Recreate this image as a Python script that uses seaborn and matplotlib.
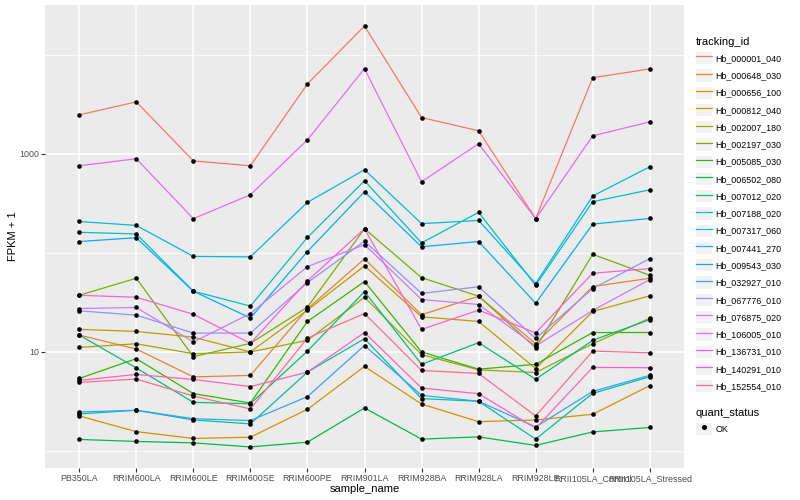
import numpy as np
import pandas as pd
import matplotlib
matplotlib.use("Agg")
import matplotlib.pyplot as plt
import seaborn as sns
from matplotlib.lines import Line2D
from matplotlib.patches import Rectangle
from matplotlib.legend_handler import HandlerTuple

# samples on the x axis
samples = ['PB350LA', 'RRIM600LA', 'RRIM600LE', 'RRIM600SE', 'RRIM600PE', 'RRIM901LA',
           'RRIM928BA', 'RRIM928LA', 'RRIM928LE', 'RRII105LA_Control', 'RRII105LA_Stressed']

tracking_ids = ['Hb_000001_040', 'Hb_000648_030', 'Hb_000656_100', 'Hb_000812_040',
                'Hb_002007_180', 'Hb_002197_030', 'Hb_005085_030', 'Hb_006502_080',
                'Hb_007012_020', 'Hb_007188_020', 'Hb_007317_060', 'Hb_007441_270',
                'Hb_009543_030', 'Hb_032927_010', 'Hb_067776_010', 'Hb_076875_020',
                'Hb_106005_010', 'Hb_136731_010', 'Hb_140291_010', 'Hb_152554_010']

# ggplot default hue palette for 20 levels
palette = ['#F8766D', '#EA8331', '#D89000', '#C09B00', '#A3A500', '#7CAE00', '#39B600',
           '#00BB4E', '#00BF7D', '#00C1A3', '#00BFC4', '#00BAE0', '#00B0F6', '#35A2FF',
           '#9590FF', '#C77CFF', '#E76BF3', '#FA62DB', '#FF62BC', '#FF6C91']

# FPKM per gene, one value per sample
fpkm_000001_040 = [2465, 3333, 846, 754, 5057, 19400, 2316, 1701, 220, 5847, 7160]
fpkm_000648_030 = [13.8, 9.7, 4.6, 4.8, 26.2, 85.9, 22.7, 35.5, 11.1, 44.7, 54.4]
fpkm_000656_100 = [1.26, 0.57, 0.34, 0.38, 1.64, 6.14, 1.98, 0.98, 1.06, 1.35, 3.57]
fpkm_000812_040 = [15.9, 15.1, 13.1, 9.0, 25.4, 72.8, 21.6, 19.3, 5.8, 24.6, 35.8]
fpkm_002007_180 = [10.1, 11.1, 8.6, 9.0, 12.1, 34.6, 8.4, 5.6, 5.2, 11.1, 20.9]
fpkm_002197_030 = [36.3, 54.4, 7.95, 11.2, 27.3, 174, 55.2, 35.5, 10.0, 95.6, 58.3]
fpkm_005085_030 = [4.4, 7.55, 2.8, 2.05, 19.3, 50.3, 9.0, 5.7, 6.5, 14.7, 14.7]
fpkm_006502_080 = [0.31, 0.25, 0.21, 0.10, 0.23, 1.72, 0.32, 0.39, 0.14, 0.56, 0.73]
fpkm_007012_020 = [13.8, 5.9, 2.1, 2.0, 9.2, 39.6, 6.5, 11.4, 4.3, 12.1, 20.2]
fpkm_007188_020 = [1.37, 1.58, 1.06, 0.88, 5.26, 12.6, 2.38, 2.18, 0.32, 2.82, 4.62]
fpkm_007317_060 = [160, 154, 40, 28, 142, 532, 125, 255, 46, 327, 431]
fpkm_007441_270 = [206, 188, 91, 90, 322, 688, 196, 211, 48, 373, 737]
fpkm_009543_030 = [129, 141, 40, 21, 102, 412, 114, 129, 30, 194, 221]
fpkm_032927_010 = [1.48, 1.58, 1.12, 1.03, 2.54, 10.6, 2.65, 2.18, 0.75, 3.0, 4.8]
fpkm_067776_010 = [25, 22.5, 14.5, 14.5, 49, 130, 38, 44.4, 12.7, 42.6, 86.4]
fpkm_076875_020 = [26.4, 27.1, 11.6, 23.4, 71.6, 120, 32.8, 29.1, 10.5, 25.2, 52.7]
fpkm_106005_010 = [754, 888, 220, 384, 1379, 7210, 520, 1258, 220, 1513, 2093]
fpkm_136731_010 = [36.3, 34.6, 23, 11.2, 51.1, 174, 15.9, 25.4, 14.6, 61.2, 68.3]
fpkm_140291_010 = [4.16, 4.93, 4.28, 3.47, 5.26, 14.7, 3.32, 2.79, 0.7, 5.98, 5.93]
fpkm_152554_010 = [3.93, 4.32, 2.59, 1.66, 12.8, 23.4, 5.5, 5.07, 1.26, 9.2, 8.8]

series = [fpkm_000001_040, fpkm_000648_030, fpkm_000656_100, fpkm_000812_040,
          fpkm_002007_180, fpkm_002197_030, fpkm_005085_030, fpkm_006502_080,
          fpkm_007012_020, fpkm_007188_020, fpkm_007317_060, fpkm_007441_270,
          fpkm_009543_030, fpkm_032927_010, fpkm_067776_010, fpkm_076875_020,
          fpkm_106005_010, fpkm_136731_010, fpkm_140291_010, fpkm_152554_010]

rows = []
for tid, vals in zip(tracking_ids, series):
    for s, v in zip(samples, vals):
        rows.append({'tracking_id': tid, 'sample_name': s, 'fpkm1': v + 1, 'quant_status': 'OK'})
df = pd.DataFrame(rows)

font = ['Liberation Sans', 'DejaVu Sans']
plt.rcParams['font.family'] = font

fig = plt.figure(figsize=(8, 5), dpi=100)
ax = fig.add_axes([45 / 800, 1 - 468 / 500, (684 - 45) / 800, (468 - 5) / 500])
ax.set_facecolor('#EBEBEB')

sns.lineplot(data=df, x='sample_name', y='fpkm1', hue='tracking_id', hue_order=tracking_ids,
             palette=palette, sort=False, estimator=None, linewidth=0.9, legend=False, ax=ax, zorder=2)
sns.scatterplot(data=df, x='sample_name', y='fpkm1', color='black', s=11, linewidth=0,
                legend=False, ax=ax, zorder=3)

ax.set_yscale('log')
lo, hi = np.log10(df['fpkm1'].min()), np.log10(df['fpkm1'].max())
pad = (hi - lo) * 0.05
ax.set_ylim(10 ** (lo - pad), 10 ** (hi + pad))
ax.set_xlim(-0.6, len(samples) - 0.4)

ax.set_yticks([10, 1000])
ax.set_yticklabels(['10', '1000'])
ax.set_yticks([1, 100, 10000], minor=True)
ax.set_yticklabels([], minor=True)
ax.set_xticks(range(len(samples)))
ax.set_xticklabels(samples)

ax.grid(which='major', color='white', linewidth=1.1)
ax.grid(which='minor', axis='y', color='white', linewidth=0.55)
ax.set_axisbelow(True)
for sp in ax.spines.values():
    sp.set_visible(False)
ax.tick_params(which='major', length=2.8, width=0.8, color='#333333', labelcolor='#4D4D4D',
               labelsize=6.4, pad=1.5)
ax.tick_params(which='minor', length=0)

ax.set_xlabel('sample_name', fontsize=8, color='black', labelpad=0.5)
ax.set_ylabel('FPKM + 1', fontsize=8, color='black', labelpad=0.5)

# legends
legend_kw = dict(loc='upper left', bbox_transform=fig.transFigure, frameon=False,
                 fontsize=6.4, title_fontsize=8, handlelength=1.75, handleheight=1.75,
                 labelspacing=0.56, handletextpad=0.45, borderaxespad=0, borderpad=0,
                 handler_map={tuple: HandlerTuple(ndivide=1, pad=0)})

handles = [(Rectangle((0, 0), 1, 1, facecolor='#F2F2F2', edgecolor='none'),
            Line2D([], [], color=c, linewidth=0.9)) for c in palette]
leg1 = ax.legend(handles, tracking_ids, title='tracking_id',
                 bbox_to_anchor=(696 / 800, 1 - 37 / 500), **legend_kw)
leg1._legend_box.align = 'left'
ax.add_artist(leg1)

h2 = [(Rectangle((0, 0), 1, 1, facecolor='#F2F2F2', edgecolor='none'),
       Line2D([], [], color='black', marker='o', markersize=2.6, linestyle='none'))]
leg2 = ax.legend(h2, ['OK'], title='quant_status',
                 bbox_to_anchor=(696 / 800, 1 - 408 / 500), **legend_kw)
leg2._legend_box.align = 'left'

fig.savefig('out.png', dpi=100)
